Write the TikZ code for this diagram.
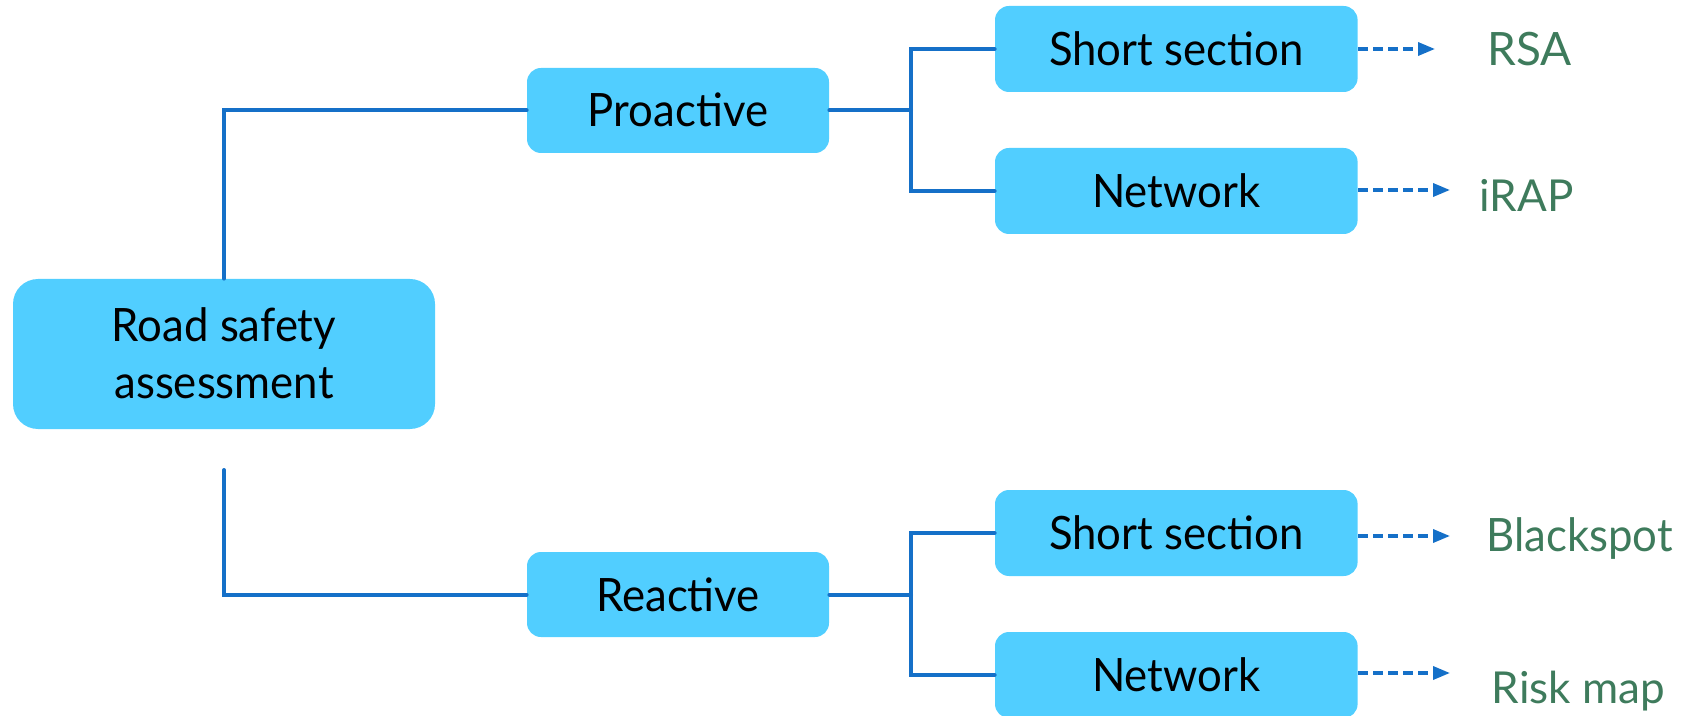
\documentclass[tikz,border=0pt]{standalone}
\usepackage{fontspec}
\setmainfont{Lato}
\newfontfamily\boxfont{Lato}[FakeStretch=0.95]
\usetikzlibrary{arrows.meta}

\definecolor{boxfill}{HTML}{51CEFF}
\definecolor{linkblue}{HTML}{1570C8}
\definecolor{outgreen}{HTML}{3E7B5C}

\tikzset{
  box/.style={fill=boxfill, inner sep=0pt, text height=16.5pt, text depth=0pt,
    font=\boxfont\fontsize{23}{28.5}\selectfont},
  rootbox/.style={box, rounded corners=12.5pt, minimum width=211pt, minimum height=75pt,
    align=center, text height=45pt, text depth=0pt},
  midbox/.style={box, rounded corners=7pt, minimum width=151pt, minimum height=42.5pt},
  leafbox/.style={box, rounded corners=7pt, minimum width=181.3pt, minimum height=43pt},
  link/.style={draw=linkblue, line width=2pt, line cap=round},
  dasharrow/.style={draw=linkblue, line width=1.7pt, dash pattern=on 5pt off 2.5pt,
    -{Triangle[length=8.5pt,width=6.5pt]}},
  outlabel/.style={text=outgreen, inner sep=0pt, anchor=base west},
}

\begin{document}
\begin{tikzpicture}[x=0.5pt, y=-0.5pt]
  \useasboundingbox (0,0) rectangle (1691,716);

  % boxes
  \node[rootbox] (main) at (224,354) {Road safety\\assessment};
  \node[midbox] (pro) at (678,110.5) {Proactive};
  \node[midbox] (rea) at (678,594.5) {Reactive};
  \node[leafbox] (ss1) at (1176.3,49) {Short section};
  \node[leafbox] (nw1) at (1176.3,191) {Network};
  \node[leafbox] (ss2) at (1176.3,533) {Short section};
  \node[leafbox] (nw2) at (1176.3,675) {Network};

  % tree connectors
  \coordinate (lowstart) at (224,470);
  \coordinate (jpro) at (911,110.5);
  \coordinate (jrea) at (911,594.5);
  \draw[link] (main.north) |- (pro.west);
  \draw[link] (lowstart) |- (rea.west);
  \draw[link] (pro.east) -- (jpro);
  \draw[link] (ss1.west) -| (jpro) |- (nw1.west);
  \draw[link] (rea.east) -- (jrea);
  \draw[link] (ss2.west) -| (jrea) |- (nw2.west);

  % outcomes
  \node[outlabel, font=\fontsize{23}{28}\selectfont] (rsa) at (1487,66) {RSA};
  \node[outlabel, font=\fontsize{22}{27}\selectfont] (irap) at (1479,212) {iRAP};
  \node[outlabel, font=\boxfont\fontsize{23}{28}\selectfont] (black) at (1486,551) {Blackspot};
  \node[outlabel, font=\fontsize{22}{27}\selectfont] (risk) at (1491.5,703) {Risk map};

  \coordinate (t1) at (1435,49);
  \coordinate (t2) at (1450,190);
  \coordinate (t3) at (1450,536);
  \coordinate (t4) at (1450,673);
  \draw[dasharrow] (ss1.east) -- (t1);
  \draw[dasharrow] (nw1.east |- t2) -- (t2);
  \draw[dasharrow] (ss2.east |- t3) -- (t3);
  \draw[dasharrow] (nw2.east |- t4) -- (t4);
\end{tikzpicture}
\end{document}
